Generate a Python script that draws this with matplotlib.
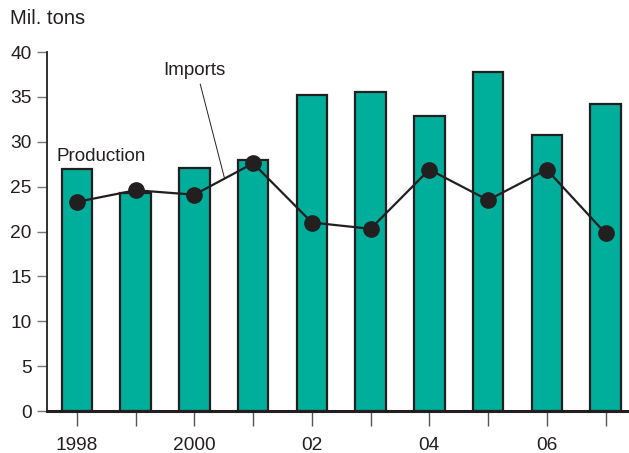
import matplotlib.pyplot as plt

plt.rcParams['font.family'] = ['Liberation Sans', 'DejaVu Sans']

# values (million tons)
years = [1998, 1999, 2000, 2001, 2002, 2003, 2004, 2005, 2006, 2007]
production = [27.0, 24.3, 27.1, 28.0, 35.2, 35.5, 32.9, 37.8, 30.8, 34.2]
imports = [23.3, 24.6, 24.1, 27.6, 21.0, 20.3, 26.9, 23.5, 26.9, 19.8]
year_labels = ['1998', '', '2000', '', '02', '', '04', '', '06', '']

teal = '#00ae9c'
dark = '#231f20'

fig = plt.figure(figsize=(6.29, 4.53), dpi=100)
ax = fig.add_axes([0.0747, 0.0927, 0.9253, 0.7925])

ax.bar(years, production, width=0.52, color=teal, edgecolor=dark, linewidth=1.6, zorder=2)
ax.plot(years, imports, color=dark, linewidth=1.6, marker='o', markersize=11, zorder=3)

ax.set_xlim(1997.49, 2007.4)
ax.set_ylim(0, 40)
ax.set_yticks(range(0, 41, 5))
ax.set_xticks(years)
ax.set_xticklabels(year_labels)

for s in ['top', 'right']:
    ax.spines[s].set_visible(False)
ax.spines['left'].set_linewidth(1.3)
ax.spines['left'].set_color(dark)
ax.spines['bottom'].set_linewidth(2.2)
ax.spines['bottom'].set_color(dark)

ax.tick_params(axis='y', direction='out', length=7, width=1.0, color='#777777',
               labelsize=13.8, labelcolor=dark, pad=4)
ax.tick_params(axis='x', direction='out', length=11, width=1.0, color='#555555',
               labelsize=13.8, labelcolor=dark, pad=8)

fig.text(0.016, 0.96, 'Mil. tons', fontsize=14.5, color=dark, va='center', ha='left')

ax.text(1997.66, 28.4, 'Production', fontsize=13.5, color=dark, va='center', ha='left')
ax.text(2000.0, 37.9, 'Imports', fontsize=13.5, color=dark, va='center', ha='center')
ax.plot([2000.10, 2000.51], [36.4, 26.0], color=dark, linewidth=0.7, zorder=4)

fig.savefig('out.png', dpi=100)
